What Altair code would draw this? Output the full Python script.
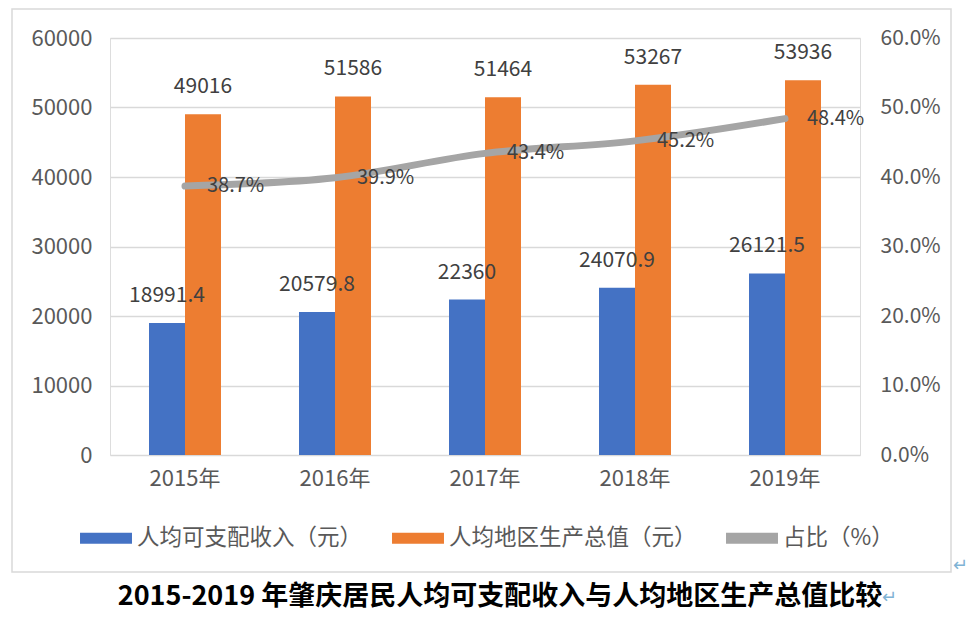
import altair as alt
import pandas as pd

years = ["2015年", "2016年", "2017年", "2018年", "2019年"]
income = [18991.4, 20579.8, 22360, 24070.9, 26121.5]
gdp = [49016, 51586, 51464, 53267, 53936]
ratio = [38.7, 39.9, 43.4, 45.2, 48.4]

s_income = "人均可支配收入（元）"
s_gdp = "人均地区生产总值（元）"
s_ratio = "占比（%）"
title_text = "2015-2019 年肇庆居民人均可支配收入与人均地区生产总值比较"

FONT = "Noto Sans CJK SC"


def fmt(v):
    return str(int(v)) if float(v).is_integer() else str(v)


rows = []
for y, a, b in zip(years, income, gdp):
    rows.append({"year": y, "series": s_income, "value": a, "label": fmt(a)})
    rows.append({"year": y, "series": s_gdp, "value": b, "label": fmt(b)})
bars_df = pd.DataFrame(rows)

line_df = pd.DataFrame({
    "year": years,
    "ratio": [r / 100 for r in ratio],
    "label": [f"{r:.1f}%" for r in ratio],
})

xscale = alt.Scale(domain=years, paddingInner=0.52, paddingOuter=0.26)
x_enc = alt.X("year:N", scale=xscale, sort=years,
              axis=alt.Axis(title=None, domain=False, ticks=False, labelAngle=0,
                            labelFontSize=22, labelColor="#595959", labelPadding=13,
                            labelFont=FONT))
xoff = alt.XOffset("series:N", scale=alt.Scale(domain=[s_income, s_gdp], paddingInner=0, paddingOuter=0))
y_left = alt.Y("value:Q", scale=alt.Scale(domain=[0, 60000], nice=False),
               axis=alt.Axis(title=None, values=[0, 10000, 20000, 30000, 40000, 50000, 60000],
                             format="d", domain=False, ticks=False, labelFontSize=22,
                             labelColor="#595959", labelPadding=18, labelFont=FONT,
                             grid=True, gridColor="#d9d9d9", gridWidth=1.4))

color = alt.Color("series:N",
                  scale=alt.Scale(domain=[s_income, s_gdp, s_ratio],
                                  range=["#4472C4", "#ED7D31", "#A5A5A5"]),
                  legend=alt.Legend(title=None, orient="none", legendX=-30, legendY=474,
                                    direction="horizontal",
                                    symbolType="M-1,-0.21H1V0.21H-1Z", symbolSize=2700,
                                    symbolStrokeWidth=0,
                                    labelFontSize=22.5, labelColor="#595959", labelFont=FONT,
                                    labelOffset=5, columnPadding=29, labelLimit=400))

bars = alt.Chart(bars_df).mark_bar().encode(x=x_enc, xOffset=xoff, y=y_left, color=color)
bar_text = alt.Chart(bars_df).mark_text(baseline="alphabetic", dy=-21, fontSize=21,
                                        color="#404040", font=FONT).encode(
    x=x_enc, xOffset=xoff, y=y_left, text="label:N")

y_right = alt.Y("ratio:Q", scale=alt.Scale(domain=[0, 0.6], nice=False),
                axis=alt.Axis(title=None, orient="right", values=[0, 0.1, 0.2, 0.3, 0.4, 0.5, 0.6],
                              format=".1%", domain=False, ticks=False, grid=False,
                              labelFontSize=21, labelColor="#595959", labelPadding=20,
                              labelFont=FONT))
line = alt.Chart(line_df).mark_line(color="#A5A5A5", strokeWidth=7, strokeCap="round",
                                    interpolate="monotone").encode(x=x_enc, y=y_right)
line_text = alt.Chart(line_df).mark_text(align="left", baseline="middle", dx=22, fontSize=20,
                                         color="#404040", font=FONT).encode(
    x=x_enc, y=y_right, text="label:N")

one = pd.DataFrame({"t": [title_text]})
border = alt.Chart(one).mark_rect(fill="transparent", stroke="#d9d9d9", strokeWidth=1.5).encode(
    x=alt.value(-98), x2=alt.value(841), y=alt.value(-29), y2=alt.value(534))
title = alt.Chart(one).mark_text(fontSize=27, fontWeight="bold", color="#000000", font=FONT,
                                 baseline="alphabetic", align="center").encode(
    text="t:N", x=alt.value(390), y=alt.value(567))
ret = pd.DataFrame({"t": ["↵"]})
ret1 = alt.Chart(ret).mark_text(fontSize=18, color="#7fb3d5", align="left", baseline="middle").encode(
    text="t:N", x=alt.value(843), y=alt.value(528))
ret2 = alt.Chart(ret).mark_text(fontSize=18, color="#7fb3d5", align="left", baseline="middle").encode(
    text="t:N", x=alt.value(772), y=alt.value(560))

chart = alt.layer(
    alt.layer(border, bars, bar_text),
    alt.layer(line, line_text),
    alt.layer(title, ret1, ret2),
).resolve_scale(y="independent").properties(
    width=750, height=417,
    autosize=alt.AutoSizeParams(type="none"),
    padding={"left": 102, "top": 30, "right": 108, "bottom": 157},
).configure_view(stroke=None).configure(background="white")

chart.save("out.html", embed_options={"renderer": "svg", "actions": False})
